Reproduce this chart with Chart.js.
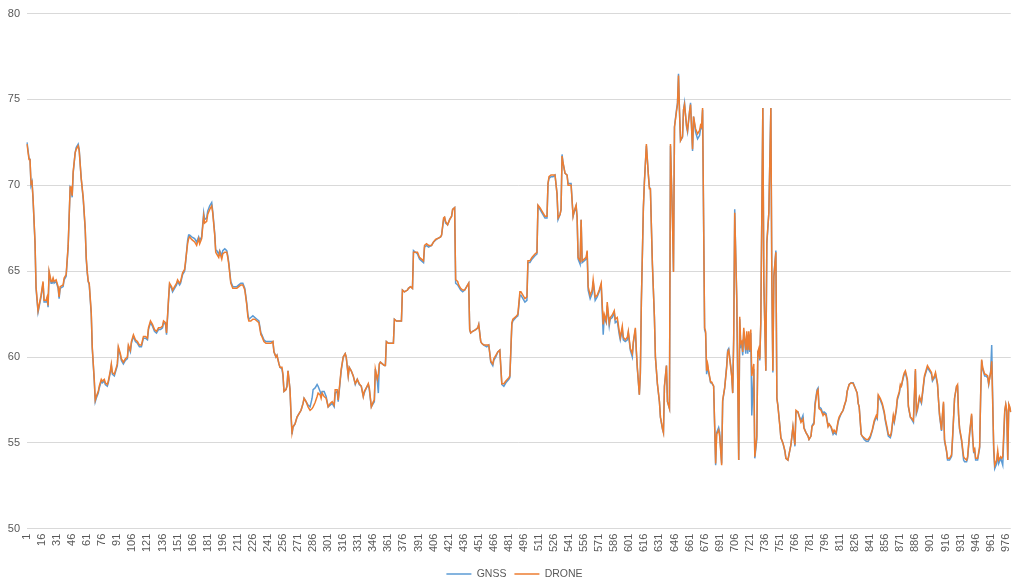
<!DOCTYPE html>
<html>
<head>
<meta charset="utf-8">
<script src="https://cdn.jsdelivr.net/npm/chart.js@4.4.1/dist/chart.umd.min.js"></script>
<style>
  html, body { margin: 0; padding: 0; background: #fff; }
</style>
</head>
<body>
<canvas id="lineChart" width="1024" height="588"></canvas>
<script>
// sample positions (1-based record number)
const idx = [
  1,3,4,5,6,7,9,10,12,13,15,17,18,20,21,22,23,25,26,27,
  28,30,32,33,34,37,38,40,42,44,45,46,47,49,50,52,53,55,57,59,
  60,61,62,63,65,66,68,69,70,72,73,75,76,78,79,81,82,84,85,86,
  88,90,91,92,94,95,97,99,101,102,104,105,107,109,111,113,115,117,119,121,
  122,124,126,128,130,132,134,136,137,139,140,142,143,145,146,148,150,151,153,154,
  156,158,159,161,162,163,165,168,170,172,173,175,177,178,180,181,183,185,186,188,
  189,190,192,193,195,196,198,200,201,202,204,206,208,210,212,214,216,218,220,221,
  222,224,226,228,230,232,234,235,237,239,240,242,244,246,247,249,250,252,253,255,
  256,257,259,260,261,263,264,265,266,268,270,272,274,276,277,279,281,283,285,286,
  288,290,291,293,294,295,297,299,301,303,305,307,308,310,311,313,314,316,318,319,
  321,322,324,326,328,330,332,334,336,337,339,341,342,344,346,347,348,350,351,352,
  353,355,357,358,359,361,363,366,367,369,372,374,375,377,380,381,383,385,386,388,
  390,392,394,396,397,399,401,404,406,408,410,413,414,416,417,418,420,422,424,425,
  427,428,430,431,433,435,437,439,441,442,443,445,448,450,451,453,454,456,459,461,
  463,465,466,468,470,472,474,476,478,481,482,484,485,488,490,492,493,495,497,499,
  500,502,504,507,509,510,512,514,517,519,520,521,523,525,527,529,530,532,533,534,
  535,537,539,540,543,545,546,548,549,550,552,553,554,556,558,559,560,562,564,565,
  567,569,571,573,575,576,578,579,581,582,584,586,587,589,591,592,594,595,597,599,
  600,602,604,605,607,608,609,611,612,613,615,616,618,620,621,622,624,626,627,629,
  631,632,634,635,636,638,639,641,642,644,645,646,648,649,650,651,652,654,655,656,
  658,659,661,662,664,665,667,669,671,672,673,674,676,677,678,679,680,682,683,685,
  686,687,688,690,691,693,694,696,698,699,700,702,703,704,705,706,708,710,711,712,
  713,714,715,717,718,719,720,721,722,723,725,726,728,729,730,731,732,734,735,737,
  738,740,742,743,744,745,747,748,749,751,752,754,756,757,759,760,762,763,764,766,
  767,769,770,772,774,775,777,779,780,782,783,785,786,788,789,790,792,794,795,797,
  799,800,802,804,805,807,809,810,812,814,815,817,818,820,822,824,826,828,829,830,
  832,833,835,837,839,841,843,845,847,848,849,851,853,855,856,858,859,861,862,864,
  865,867,868,870,871,872,874,875,876,878,879,881,882,884,886,887,888,890,892,893,
  895,897,898,900,902,903,905,906,908,909,910,912,913,914,915,917,918,920,922,923,
  925,927,928,929,930,932,934,935,937,938,940,942,943,944,945,946,948,950,951,952,
  953,955,956,958,959,961,962,964,965,967,968,969,971,972,973,975,976,977,978,979,
  980,981
];

const gnss = [
  72.5,71.6,71.5,70.0,70.2,69.2,66.6,64.0,62.6,62.9,63.5,64.3,63.2,63.2,63.4,62.9,64.9,64.3,64.3,64.5,
  64.3,64.4,64.0,63.4,64.0,64.1,64.5,64.7,66.4,69.9,69.8,69.3,70.7,71.9,72.2,72.4,72.1,70.4,69.2,67.4,
  65.7,64.9,64.4,64.2,62.5,60.5,58.6,57.4,57.6,57.9,58.2,58.6,58.5,58.6,58.4,58.3,58.5,59.1,59.5,59.0,
  58.9,59.3,59.5,60.5,60.1,59.8,59.6,59.8,59.9,60.6,60.3,60.8,61.2,60.9,60.8,60.6,60.6,61.1,61.1,61.0,
  61.6,62.0,61.8,61.5,61.4,61.6,61.6,61.7,62.0,61.9,61.3,63.3,64.2,64.0,63.8,64.0,64.2,64.4,64.2,64.3,
  64.8,65.0,65.5,66.8,67.1,67.1,67.0,66.9,66.7,67.0,66.8,67.0,68.4,68.0,68.1,68.5,68.8,69.0,68.5,67.2,
  66.2,66.2,66.0,66.2,65.9,66.2,66.3,66.2,65.9,65.5,64.4,64.1,64.1,64.1,64.2,64.3,64.3,64.0,63.1,62.5,
  62.2,62.3,62.4,62.3,62.2,62.1,61.4,61.3,61.0,60.9,60.9,60.9,60.9,60.9,60.3,60.0,60.1,59.6,59.4,59.3,
  58.9,58.0,58.1,58.3,59.2,58.1,56.6,55.5,55.9,56.1,56.5,56.7,56.9,57.3,57.6,57.4,57.2,57.1,57.6,58.1,
  58.2,58.4,58.3,58.0,57.8,58.0,58.0,57.7,57.1,57.2,57.3,57.1,57.9,58.0,57.4,58.6,59.2,60.0,60.2,60.0,
  58.9,59.4,59.2,58.9,58.4,58.7,58.4,58.3,57.7,57.9,58.2,58.4,58.1,57.1,57.3,57.4,59.3,58.6,57.9,59.6,
  59.7,59.6,59.5,59.5,60.9,60.8,60.8,60.8,62.2,62.1,62.1,62.1,63.9,63.8,63.9,64.0,64.1,64.0,66.2,66.1,
  66.0,65.7,65.6,65.5,66.4,66.5,66.4,66.5,66.7,66.8,66.9,67.0,67.1,68.0,68.1,67.8,67.7,68.0,68.2,68.6,
  68.7,64.3,64.2,64.1,63.9,63.8,63.9,64.1,64.3,61.6,61.4,61.5,61.6,61.7,61.9,60.9,60.8,60.7,60.6,60.7,
  59.7,59.5,59.8,60.0,60.3,60.4,58.4,58.3,58.5,58.7,58.8,61.9,62.1,62.3,62.4,63.6,63.6,63.4,63.2,63.3,
  65.5,65.5,65.7,65.9,66.0,68.8,68.6,68.4,68.1,68.1,70.1,70.4,70.5,70.5,70.6,69.5,68.0,68.3,68.6,71.8,
  71.3,70.7,70.6,70.1,70.1,68.2,68.4,68.8,68.1,65.7,65.4,68.0,65.5,65.6,65.7,66.1,63.9,63.4,63.7,64.4,
  63.3,63.5,63.8,64.2,61.3,62.3,62.0,63.0,61.8,62.2,62.3,62.6,62.0,62.1,61.3,61.0,61.6,61.0,60.9,61.0,
  61.4,60.4,60.0,60.8,61.6,60.3,59.3,57.8,59.0,63.2,68.6,70.2,72.3,70.6,69.9,69.8,65.4,62.3,60.0,58.4,
  57.4,56.5,55.8,55.6,58.3,59.5,57.4,57.0,72.3,68.1,65.0,73.4,74.4,74.8,76.5,74.3,72.6,72.8,74.4,74.8,
  73.4,73.1,74.3,74.8,72.0,74.0,73.1,72.7,72.9,73.3,73.3,74.4,61.6,61.4,59.0,59.5,59.1,58.5,58.5,58.3,
  56.0,53.7,55.6,55.9,55.6,53.8,57.4,58.2,59.5,60.4,60.5,59.5,58.9,57.9,61.2,68.6,63.4,54.0,62.2,60.6,
  60.7,60.1,61.5,60.2,61.3,60.2,61.3,60.3,61.4,56.6,59.3,54.1,55.2,60.3,60.4,59.8,62.0,74.5,64.4,59.2,
  66.6,68.4,74.5,64.3,59.1,64.7,66.2,57.6,57.2,56.0,55.3,55.0,54.5,54.1,54.0,54.3,54.9,55.4,55.9,54.8,
  56.8,56.8,56.6,56.3,56.6,55.9,55.6,55.4,55.2,55.4,56.0,56.2,57.3,58.1,58.2,57.1,57.0,56.7,56.8,56.7,
  56.0,56.1,55.9,55.5,55.6,55.5,56.2,56.4,56.7,56.9,57.1,57.5,58.0,58.4,58.5,58.5,58.2,57.9,57.3,57.1,
  55.5,55.4,55.2,55.1,55.1,55.3,55.7,56.2,56.5,56.4,57.7,57.5,57.2,56.7,56.3,55.7,55.4,55.3,55.5,56.5,
  56.2,56.9,57.5,57.9,58.3,58.3,58.8,59.0,59.1,58.6,57.1,56.5,56.4,56.2,59.2,56.7,56.9,57.6,57.3,57.8,
  58.8,59.2,59.4,59.2,59.0,58.6,58.8,59.0,58.4,57.5,56.6,55.7,56.6,57.3,55.1,54.5,54.0,54.0,54.2,55.2,
  57.6,58.3,58.3,56.6,55.8,55.1,54.0,53.9,53.9,54.1,55.5,56.6,55.3,54.5,54.6,54.0,54.0,54.7,57.7,59.8,
  59.3,58.9,58.9,58.8,58.4,59.2,60.7,54.5,53.5,53.8,54.4,53.8,54.1,53.9,53.7,56.8,57.2,56.8,54.0,57.2,
  57.0,56.8
];

const drone = [
  72.4,71.5,71.5,70.1,70.2,69.3,66.7,64.1,62.7,63.0,63.6,64.4,63.3,63.3,63.5,63.0,65.0,64.4,64.4,64.6,
  64.4,64.5,64.1,63.5,64.1,64.2,64.6,64.8,66.5,69.9,69.9,69.4,70.8,71.9,72.1,72.3,72.0,70.4,69.3,67.5,
  65.8,65.0,64.4,64.3,62.6,60.6,58.7,57.5,57.7,58.0,58.3,58.7,58.6,58.7,58.5,58.4,58.6,59.2,59.6,59.1,
  59.0,59.4,59.6,60.6,60.2,59.9,59.7,59.9,60.0,60.7,60.4,60.9,61.3,61.0,60.9,60.7,60.7,61.2,61.2,61.1,
  61.7,62.1,61.9,61.6,61.5,61.7,61.7,61.8,62.1,62.0,61.4,63.4,64.3,64.1,63.9,64.1,64.3,64.5,64.3,64.4,
  64.9,65.1,65.6,66.6,66.9,67.0,66.85,66.7,66.5,66.9,66.6,66.9,68.2,67.8,67.9,68.3,68.6,68.8,68.4,67.1,
  66.1,66.0,65.8,66.1,65.7,66.0,66.1,66.1,65.8,65.4,64.3,64.0,64.0,64.0,64.1,64.2,64.2,63.9,63.0,62.35,
  62.1,62.1,62.2,62.2,62.1,62.0,61.3,61.2,60.9,60.8,60.8,60.8,60.8,60.9,60.3,60.0,60.1,59.6,59.4,59.4,
  59.0,58.0,58.1,58.3,59.2,58.1,56.7,55.6,55.95,56.1,56.5,56.7,56.9,57.3,57.6,57.4,57.1,56.9,57.0,57.1,
  57.35,57.7,57.9,57.8,57.6,57.9,57.7,57.6,57.1,57.3,57.4,57.2,58.1,58.1,57.5,58.7,59.3,60.0,60.2,60.0,
  58.9,59.4,59.2,58.9,58.45,58.7,58.45,58.3,57.7,58.0,58.2,58.45,58.2,57.1,57.4,57.5,59.3,58.7,59.0,59.6,
  59.7,59.6,59.5,59.5,60.9,60.8,60.8,60.8,62.2,62.1,62.1,62.1,63.9,63.8,63.9,64.0,64.1,64.0,66.1,66.1,
  66.1,65.8,65.7,65.6,66.5,66.6,66.5,66.5,66.7,66.85,66.9,67.0,67.1,68.1,68.15,67.9,67.7,68.0,68.2,68.6,
  68.7,64.5,64.4,64.2,64.0,63.9,63.9,64.1,64.3,61.6,61.4,61.5,61.6,61.7,61.9,60.9,60.8,60.7,60.7,60.7,
  59.75,59.6,59.9,60.1,60.3,60.4,58.45,58.45,58.6,58.8,58.9,62.0,62.2,62.35,62.5,63.8,63.8,63.6,63.4,63.5,
  65.6,65.6,65.8,66.0,66.1,68.85,68.7,68.5,68.2,68.2,70.1,70.5,70.6,70.6,70.6,69.5,68.1,68.3,68.6,71.7,
  71.3,70.7,70.6,70.0,70.0,68.2,68.5,68.85,68.2,65.8,65.6,68.0,65.6,65.7,65.8,66.2,64.1,63.6,63.9,64.5,
  63.5,63.6,63.9,64.3,61.9,62.5,62.1,63.2,62.0,62.3,62.45,62.7,62.2,62.3,61.5,61.15,61.8,61.15,61.0,61.15,
  61.5,60.5,60.2,60.9,61.7,60.4,59.4,57.8,59.1,63.2,68.7,70.1,72.4,70.6,69.8,69.8,65.4,62.35,60.0,58.45,
  57.4,56.5,55.85,55.6,58.3,59.5,57.4,57.0,72.4,68.0,64.95,73.4,74.3,74.7,76.4,74.3,72.6,72.85,74.4,74.7,
  73.5,73.2,74.3,74.7,72.1,74.0,73.3,73.0,73.2,73.5,73.4,74.5,61.7,61.5,59.2,59.6,59.2,58.55,58.55,58.3,
  56.1,53.8,55.5,55.75,55.4,53.7,57.5,58.2,59.4,60.3,60.4,59.4,58.9,57.9,61.05,68.4,63.6,54.0,62.35,60.8,
  60.9,60.3,61.7,60.4,61.5,60.4,61.5,60.4,61.6,58.9,59.6,54.2,55.4,60.3,60.5,59.9,62.1,74.5,64.4,59.2,
  66.7,68.4,74.5,64.4,59.2,64.7,66.1,57.6,57.15,55.95,55.3,55.0,54.55,54.1,54.0,54.3,54.9,55.4,55.95,54.9,
  56.9,56.8,56.6,56.2,56.4,55.85,55.6,55.4,55.2,55.4,55.95,56.1,57.15,58.0,58.1,57.0,56.9,56.6,56.7,56.6,
  55.95,56.1,55.95,55.6,55.75,55.6,56.3,56.5,56.7,56.9,57.15,57.5,58.0,58.4,58.5,58.45,58.2,57.9,57.3,57.1,
  55.5,55.4,55.3,55.2,55.2,55.4,55.75,56.3,56.6,56.5,57.8,57.6,57.3,56.8,56.4,55.85,55.5,55.4,55.6,56.6,
  56.3,57.0,57.6,58.0,58.4,58.3,58.9,59.1,59.2,58.7,57.15,56.5,56.45,56.3,59.3,56.8,57.0,57.7,57.4,57.9,
  58.9,59.3,59.5,59.3,59.1,58.7,58.9,59.1,58.45,57.5,56.7,55.75,56.7,57.4,55.2,54.55,54.1,54.1,54.3,55.3,
  57.6,58.3,58.4,56.7,55.85,55.2,54.2,54.1,54.0,54.2,55.6,56.7,55.4,54.55,54.65,54.1,54.1,54.8,57.8,59.85,
  59.4,59.0,59.0,58.9,58.45,59.1,59.75,54.8,53.7,54.0,54.55,54.0,54.2,54.1,54.2,56.9,57.25,56.9,54.0,57.25,
  57.1,56.8
];

// category axis: records 1..981, every 15th one labelled
const categories = Array.from({ length: 981 }, (_, i) => i + 1);
const labelEvery = 15;

const toPoints = vals => idx.map((x, k) => ({ x: x, y: vals[k] }));

Chart.defaults.font.family = '"Liberation Sans", Arial, sans-serif';
Chart.defaults.color = '#595959';

// nudge the legend a little to the right, like the original
const legendShift = {
  id: "legendShift",
  afterLayout(chart) {
    chart.legend.left += 7;
    chart.legend.right += 7;
  }
};

const ctx = document.getElementById("lineChart").getContext("2d");
new Chart(ctx, {
  type: "line",
  data: {
    labels: categories,
    datasets: [
      {
        label: "GNSS",
        data: toPoints(gnss),
        borderColor: "#5B9BD5",
        backgroundColor: "#5B9BD5",
        borderWidth: 1.5,
        pointRadius: 0,
        tension: 0,
        order: 1
      },
      {
        label: "DRONE",
        data: toPoints(drone),
        borderColor: "#ED7D31",
        backgroundColor: "#ED7D31",
        borderWidth: 1.5,
        pointRadius: 0,
        tension: 0,
        order: 0
      }
    ]
  },
  options: {
    responsive: false,
    animation: false,
    layout: { padding: { top: 3, right: 9, left: 0, bottom: -1.25 } },
    plugins: {
      tooltip: { enabled: false },
      legend: {
        position: "bottom",
        labels: {
          usePointStyle: true,
          pointStyle: "line",
          pointStyleWidth: 25,
          padding: 8,
          font: { size: 10.5 },
          sort: (a, b) => a.datasetIndex - b.datasetIndex
        }
      }
    },
    scales: {
      x: {
        type: "category",
        grid: { display: false, drawTicks: false },
        border: { display: false },
        ticks: {
          autoSkip: false,
          minRotation: 90,
          maxRotation: 90,
          padding: 5,
          font: { size: 11 },
          callback: function (value, index) {
            return index % labelEvery === 0 ? this.getLabelForValue(value) : null;
          }
        },
        afterFit: scale => { scale.height = 32; }
      },
      y: {
        min: 50,
        max: 80,
        grid: { color: "#D9D9D9", drawTicks: false },
        border: { display: false },
        ticks: { stepSize: 5, padding: 7, font: { size: 11 } },
        afterFit: scale => { scale.width = 27; }
      }
    }
  },
  plugins: [legendShift]
});
</script>
</body>
</html>
